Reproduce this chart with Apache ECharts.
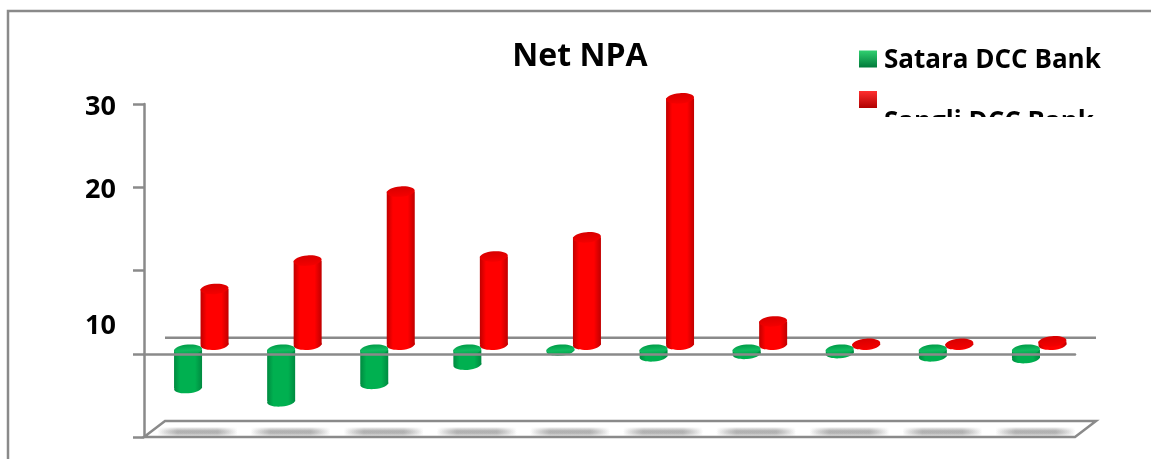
<!DOCTYPE html>
<html>
<head>
<meta charset="utf-8">
<style>
  html, body { margin: 0; padding: 0; background: #fff; }
  #main { width: 1151px; height: 459px; }
</style>
<script src="https://cdn.jsdelivr.net/npm/echarts@6/dist/echarts.min.js"></script>
</head>
<body>
<div id="main"></div>
<script>
var categories = ['1', '2', '3', '4', '5', '6', '7', '8', '9', '10'];
var sataraValues = [-4.6, -6.2, -4.1, -1.8, -0.1, -0.8, -0.5, -0.4, -0.8, -1.0];
var sangliValues = [6.7, 10.1, 18.4, 10.6, 12.9, 29.6, 2.8, 0.1, 0.1, 0.4];
var seriesNames = ['Satara DCC Bank', 'Sangli DCC Bank'];
var tickLabels = { '30': '30', '20': '20' };
var strayTickLabel = '10';

var FONT = '"Open Sans", "Noto Sans", sans-serif';
var GREY = '#8a8a8a';
var LINE_W = 2.5;
var DEPTH_X = 21;
var DEPTH_Y = -16;

var chart = echarts.init(document.getElementById('main'));

function sideGradient(edge, mid) {
  return new echarts.graphic.LinearGradient(0, 0, 1, 0, [
    { offset: 0, color: edge },
    { offset: 0.22, color: mid },
    { offset: 0.75, color: mid },
    { offset: 1, color: edge }
  ]);
}

// one cylinder, shifted from the category centre to fake the 3d look
function cylinder(params, api, look) {
  var idx = api.value(0);
  var zero = api.coord([idx, 0]);
  var end = api.coord([idx, api.value(1)]);
  var cx = zero[0] + look.dx;
  var w = 28;
  var y0 = zero[1] + look.dy;
  var y1 = end[1] + look.dy;
  var top = Math.min(y0, y1);
  var bottom = Math.max(y0, y1);
  var cap = function (y, fill) {
    return {
      type: 'ellipse',
      x: cx,
      y: y,
      rotation: 0.08,
      shape: { cx: 0, cy: 0, rx: w / 2, ry: 5.2 },
      style: { fill: fill }
    };
  };
  return {
    type: 'group',
    children: [
      cap(bottom, sideGradient(look.edge, look.mid)),
      {
        type: 'rect',
        shape: { x: cx - w / 2, y: top, width: w, height: bottom - top },
        style: { fill: sideGradient(look.edge, look.mid) }
      },
      cap(top, look.cap)
    ]
  };
}

// soft shadow on the floor: stacked bands that fade out at both ends
function floorShadow(cx, cy) {
  return [9, 7, 5, 3].map(function (h) {
    return {
      type: 'rect',
      shape: { x: cx - 40, y: cy - h / 2, width: 80, height: h },
      style: {
        fill: new echarts.graphic.LinearGradient(0, 0, 1, 0, [
          { offset: 0, color: 'rgba(120,120,120,0)' },
          { offset: 0.25, color: 'rgba(120,120,120,0.19)' },
          { offset: 0.75, color: 'rgba(120,120,120,0.19)' },
          { offset: 1, color: 'rgba(120,120,120,0)' }
        ])
      }
    };
  });
}

// walls and floor hang off the axis corners
function drawFloor(params, api) {
  var first = api.coord([0, -10]);
  var size = api.size([1, 0]);
  var left = first[0] - size[0] / 2;
  var right = left + size[0] * categories.length;
  var y = first[1];
  var wallY = api.coord([0, 0])[1] + DEPTH_Y;
  var children = [
    {
      type: 'polygon',
      shape: { points: [[left, y], [left + DEPTH_X, y + DEPTH_Y], [right + DEPTH_X, y + DEPTH_Y], [right, y]] },
      style: { fill: '#fff', stroke: GREY, lineWidth: LINE_W }
    },
    {
      type: 'line',
      shape: { x1: left + DEPTH_X, y1: wallY, x2: right + DEPTH_X, y2: wallY },
      style: { stroke: GREY, lineWidth: LINE_W, fill: 'none' }
    }
  ];
  categories.forEach(function (c, i) {
    children = children.concat(floorShadow(api.coord([i, -10])[0] + 7, y - 5));
  });
  return { type: 'group', children: children };
}

var looks = {
  green: {
    dx: -2.5, dy: -4, edge: '#008a40', mid: '#00b050',
    cap: new echarts.graphic.LinearGradient(0, 0, 0, 1, [{ offset: 0, color: '#009c48' }, { offset: 0.55, color: '#12bb60' }, { offset: 1, color: '#00a64c' }])
  },
  red: {
    dx: 24, dy: -9, edge: '#c00000', mid: '#ff0000',
    cap: new echarts.graphic.LinearGradient(0, 0, 0, 1, [{ offset: 0, color: '#d80000' }, { offset: 1, color: '#f40000' }])
  }
};

function legendText(topPad) {
  return {
    fontFamily: FONT,
    fontWeight: 'bold',
    fontSize: 26,
    color: '#000',
    rich: { a: { fontFamily: FONT, fontWeight: 'bold', fontSize: 26, color: '#000', padding: [topPad, 0, 0, 2] } }
  };
}

chart.setOption({
  animation: false,
  backgroundColor: '#fff',
  title: {
    text: 'Net NPA',
    left: 575,
    top: 36,
    textAlign: 'center',
    textStyle: { fontFamily: FONT, fontWeight: 'bold', fontSize: 32, color: '#000' }
  },
  legend: [
    {
      data: [seriesNames[0]],
      left: 859,
      top: 48,
      padding: 0,
      itemWidth: 18,
      itemHeight: 17,
      icon: 'rect',
      selectedMode: false,
      formatter: '{a|{name}}',
      textStyle: legendText(4)
    },
    {
      data: [seriesNames[1]],
      left: 859,
      top: 91,
      padding: 0,
      itemWidth: 18,
      itemHeight: 17,
      icon: 'rect',
      selectedMode: false,
      formatter: '{a|{name}}',
      textStyle: legendText(46)
    }
  ],
  grid: { left: 144, right: 76, top: 104, bottom: 22 },
  xAxis: {
    type: 'category',
    data: categories,
    z: 6,
    axisLine: { lineStyle: { color: GREY, width: LINE_W } },
    axisTick: { show: false },
    axisLabel: { show: false }
  },
  yAxis: {
    type: 'value',
    min: -10,
    max: 30,
    interval: 10,
    splitLine: { show: false },
    axisLine: { show: true, onZero: false, lineStyle: { color: GREY, width: LINE_W } },
    axisTick: { show: true, length: 11, lineStyle: { color: GREY, width: LINE_W } },
    axisLabel: {
      margin: 28,
      formatter: function (v) { return tickLabels[v] ? '{a|' + tickLabels[v] + '}' : ''; },
      rich: { a: { fontFamily: FONT, fontWeight: 'bold', fontSize: 27, color: '#000', padding: [6, 0, 0, 0] } }
    }
  },
  graphic: [
    // chart frame, only top and left are in view
    {
      type: 'polyline',
      shape: { points: [[8, 459], [8, 11], [1151, 11]] },
      style: { fill: 'none', stroke: GREY, lineWidth: LINE_W },
      z: -1
    },
    {
      type: 'text',
      left: 85,
      top: 313,
      style: { text: strayTickLabel, fontFamily: FONT, fontWeight: 'bold', fontSize: 27, fill: '#000' }
    },
    // legend box cuts off the second entry
    {
      type: 'rect',
      shape: { x: 850, y: 117, width: 270, height: 50 },
      style: { fill: '#fff' },
      z: 100
    }
  ],
  series: [
    {
      name: 'floor',
      type: 'custom',
      z: 1,
      silent: true,
      renderItem: drawFloor,
      data: [[0, -10]]
    },
    {
      name: seriesNames[1],
      type: 'custom',
      z: 3,
      itemStyle: { color: new echarts.graphic.LinearGradient(0, 0, 0, 1, [{ offset: 0, color: '#ff3030' }, { offset: 1, color: '#b00000' }]) },
      renderItem: function (p, api) { return cylinder(p, api, looks.red); },
      encode: { x: 0, y: 1 },
      data: sangliValues.map(function (v, i) { return [i, v]; })
    },
    {
      name: seriesNames[0],
      type: 'custom',
      z: 4,
      itemStyle: { color: new echarts.graphic.LinearGradient(0, 0, 0, 1, [{ offset: 0, color: '#30d070' }, { offset: 1, color: '#007a3a' }]) },
      renderItem: function (p, api) { return cylinder(p, api, looks.green); },
      encode: { x: 0, y: 1 },
      data: sataraValues.map(function (v, i) { return [i, v]; })
    }
  ]
});
</script>
</body>
</html>
